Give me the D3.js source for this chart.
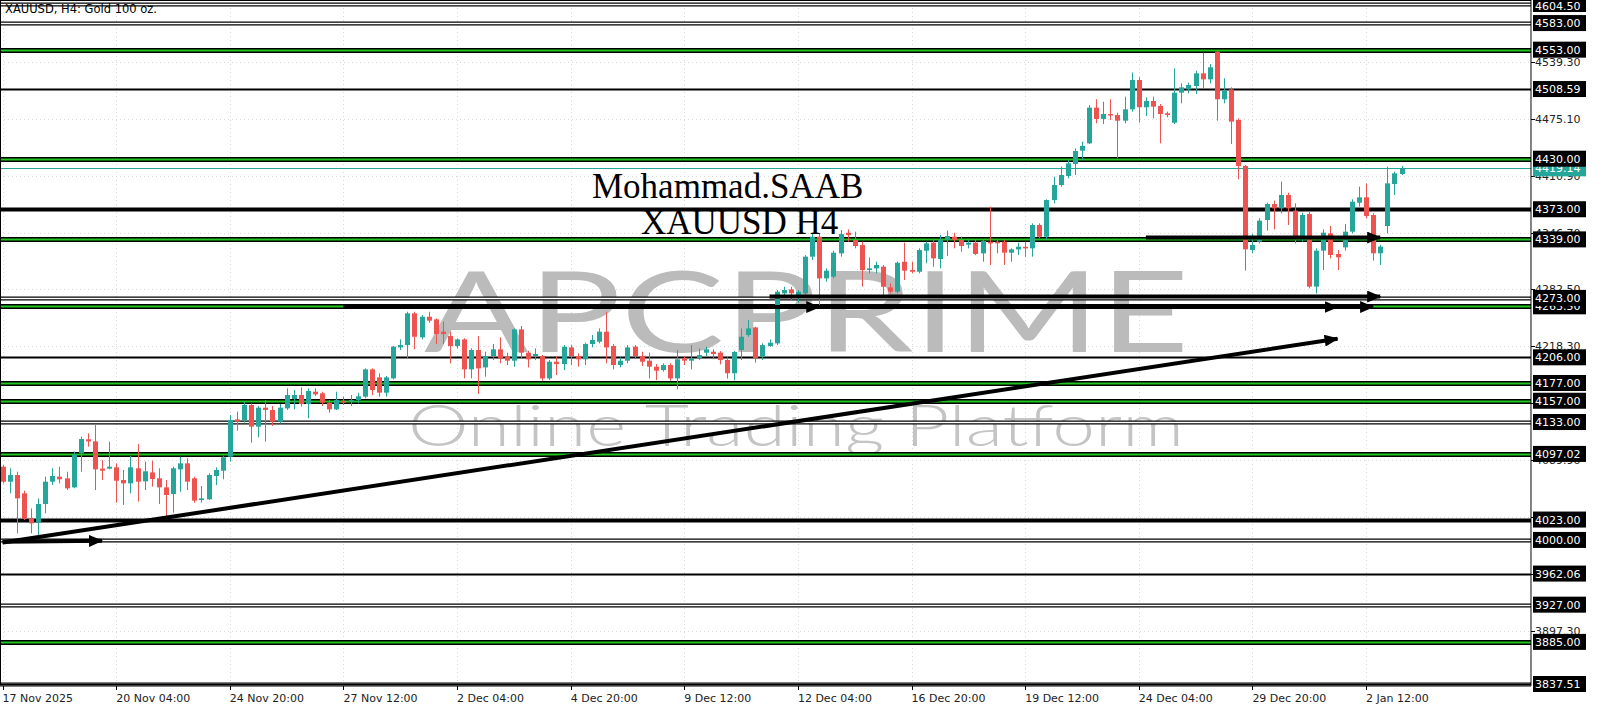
<!DOCTYPE html>
<meta charset="utf-8">
<head>
<script src="https://cdn.jsdelivr.net/npm/d3@7"></script>
</head>
<style>
  body { margin: 0; background: #fff; }
  svg { display: block; font-family: "DejaVu Sans", sans-serif; }
</style>
<body></body>
<script>
var width = 1600, height = 711;

// time axis labels, one every 16 H4 bars
var timeLabels = ["17 Nov 2025", "20 Nov 04:00", "24 Nov 20:00", "27 Nov 12:00", "2 Dec 04:00",
  "4 Dec 20:00", "9 Dec 12:00", "12 Dec 04:00", "16 Dec 20:00", "19 Dec 12:00",
  "24 Dec 04:00", "29 Dec 20:00", "2 Jan 12:00"];

var priceTicks = [4539.30, 4475.10, 4410.90, 4346.70, 4282.50, 4218.30, 4154.10,
  4089.90, 4025.70, 3961.50, 3897.30];

// horizontal support / resistance levels
var levels = [3837.51, 3885.00, 3927.00, 3962.06, 4000.00, 4023.00, 4097.02, 4133.00,
  4157.00, 4177.00, 4206.00, 4263.50, 4273.00, 4339.00, 4373.00, 4430.00, 4508.59,
  4553.00, 4583.00, 4604.50];

var lastPrice = 4419.14;

var opens = [4082.6,4065.7,4073.2,4052.6,4024.4,4019.5,4040.5,4065.7,4071.4,4069.5,
4059.3,4097.7,4113.5,4111.2,4080.4,4080.4,4081.9,4067.6,4063.8,4080.8,
4066.1,4076.2,4069.5,4059.3,4051.8,4079.6,4086.4,4069.5,4045.0,4045.8,
4072.1,4078.1,4093.9,4136.0,4135.3,4152.2,4127.8,4149.2,4146.6,4133.4,
4148.4,4159.0,4163.5,4153.3,4167.2,4165.4,4154.8,4147.3,4157.1,4155.6,
4157.8,4161.6,4192.4,4183.4,4166.1,4182.2,4217.2,4219.8,4255.6,4228.5,
4251.8,4248.8,4234.9,4230.0,4218.7,4226.2,4192.4,4214.2,4194.6,4207.4,
4215.0,4207.4,4202.2,4237.5,4211.2,4207.4,4207.4,4182.2,4201.0,4198.4,
4217.2,4207.4,4203.7,4221.0,4223.6,4234.9,4218.7,4197.3,4202.2,4218.0,
4207.4,4202.2,4195.4,4191.6,4197.3,4182.2,4204.8,4202.2,4204.8,4211.2,
4212.3,4211.2,4203.0,4188.0,4214.2,4231.1,4239.7,4206.7,4218.7,4221.7,
4278.1,4282.6,4276.2,4278.1,4319.5,4342.0,4295.0,4296.9,4323.2,4346.5,
4338.3,4332.6,4304.4,4306.3,4308.2,4284.9,4280.0,4313.8,4304.4,4302.5,
4326.2,4335.3,4316.9,4338.3,4342.0,4338.3,4333.0,4335.3,4323.2,4336.4,
4336.4,4336.4,4324.0,4327.7,4330.7,4328.9,4355.2,4342.0,4383.4,4400.3,
4410.5,4424.0,4439.1,4447.3,4487.6,4474.8,4480.4,4479.3,4472.9,4485.7,
4518.8,4488.0,4495.1,4489.5,4481.2,4470.6,4504.5,4508.2,4512.0,4526.3,
4519.5,4550.7,4497.0,4508.2,4473.7,4421.8,4327.0,4336.4,4360.9,4378.9,
4374.0,4389.1,4371.4,4340.2,4367.6,4285.7,4326.3,4345.8,4322.5,4330.0,
4347.7,4380.4,4386.4,4366.5,4323.3,4354.1,4401.5,4412.8];

var highs = [4084.5,4080.8,4077.0,4055.6,4035.6,4046.9,4071.4,4080.8,4082.6,4077.0,
4099.6,4116.5,4120.2,4129.6,4090.2,4110.8,4086.4,4078.9,4094.7,4108.2,
4088.3,4089.4,4080.8,4067.6,4082.6,4093.9,4092.0,4071.4,4060.8,4075.1,
4081.9,4095.0,4140.9,4144.7,4155.9,4154.1,4151.1,4157.8,4151.1,4153.3,
4171.0,4169.1,4172.1,4171.0,4171.0,4167.2,4157.8,4167.2,4161.6,4163.5,
4166.0,4193.5,4193.5,4187.9,4184.9,4218.7,4226.2,4257.4,4257.4,4253.7,
4257.4,4249.9,4246.2,4234.9,4227.4,4227.4,4216.1,4230.0,4212.3,4221.0,
4228.5,4211.2,4238.6,4241.3,4213.4,4216.1,4208.6,4202.9,4207.4,4219.8,
4219.8,4210.4,4222.5,4231.1,4238.6,4257.4,4221.0,4205.9,4219.8,4219.8,
4212.3,4211.2,4198.4,4199.2,4199.2,4214.2,4207.4,4219.8,4216.1,4218.0,
4215.0,4213.0,4206.0,4213.0,4238.6,4248.0,4240.5,4221.7,4226.2,4281.9,
4285.6,4285.6,4281.9,4321.3,4345.8,4345.8,4306.3,4326.2,4349.5,4350.3,
4347.7,4336.4,4318.7,4313.8,4310.1,4289.4,4313.8,4335.3,4313.8,4328.9,
4336.4,4338.3,4343.9,4348.8,4346.5,4342.0,4338.3,4338.3,4338.3,4375.9,
4338.3,4338.3,4328.9,4335.3,4336.4,4357.1,4357.1,4384.1,4409.7,4421.0,
4428.5,4441.7,4449.2,4490.6,4497.0,4494.3,4497.0,4481.9,4500.0,4527.1,
4521.8,4499.2,4500.0,4491.7,4483.1,4531.9,4515.0,4515.8,4529.3,4549.6,
4536.8,4552.6,4520.7,4510.5,4475.5,4422.9,4345.1,4362.8,4380.4,4382.7,
4404.1,4391.7,4379.7,4369.1,4370.3,4328.9,4350.3,4354.1,4327.0,4356.4,
4384.2,4398.5,4402.2,4368.4,4332.7,4421.0,4415.4,4421.8];

var lows = [4063.8,4052.6,4007.4,4022.5,4007.4,4001.8,4030.0,4061.9,4063.8,4056.3,
4058.2,4077.0,4105.2,4056.3,4067.6,4079.6,4042.0,4039.4,4052.6,4043.2,
4056.3,4060.1,4040.5,4025.5,4030.8,4054.4,4056.3,4042.0,4042.0,4045.0,
4061.9,4068.4,4088.3,4123.2,4132.3,4109.7,4115.7,4110.8,4128.5,4131.5,
4146.6,4147.3,4150.3,4137.2,4162.4,4151.1,4143.6,4146.6,4152.2,4151.1,
4154.0,4159.7,4163.4,4161.6,4161.6,4181.1,4214.2,4204.8,4215.0,4226.2,
4245.0,4221.0,4221.0,4199.2,4216.1,4182.2,4182.2,4164.6,4184.1,4202.9,
4199.2,4197.3,4195.4,4204.8,4194.6,4202.9,4179.6,4180.4,4186.0,4191.6,
4197.3,4195.4,4197.3,4217.2,4221.7,4199.2,4192.4,4194.6,4199.2,4204.8,
4196.2,4182.2,4180.4,4189.8,4179.6,4169.8,4197.3,4192.4,4202.9,4207.4,
4205.0,4198.0,4182.0,4180.0,4202.9,4229.2,4200.0,4203.0,4217.9,4219.8,
4274.3,4270.6,4267.6,4276.2,4315.7,4264.9,4291.3,4295.0,4319.5,4336.4,
4328.9,4285.6,4300.7,4300.7,4276.2,4278.1,4278.1,4293.1,4300.7,4300.7,
4312.0,4308.2,4306.3,4320.2,4328.9,4325.1,4328.9,4321.3,4313.8,4310.1,
4323.2,4310.1,4313.8,4321.3,4319.5,4319.5,4340.1,4338.3,4379.6,4398.4,
4407.9,4411.6,4428.5,4446.6,4469.9,4469.1,4473.7,4430.4,4469.9,4483.1,
4470.6,4478.2,4475.5,4447.3,4476.7,4469.1,4492.5,4503.7,4503.0,4509.4,
4515.0,4472.9,4492.5,4446.6,4406.7,4303.7,4323.3,4334.5,4348.8,4350.3,
4368.4,4355.2,4334.5,4336.4,4283.8,4278.1,4304.5,4317.6,4304.5,4326.3,
4345.8,4375.9,4362.7,4315.0,4310.1,4345.8,4389.1,4411.6];

var closes = [4065.7,4073.2,4046.9,4024.4,4018.7,4040.5,4065.7,4072.1,4068.4,4058.2,
4095.8,4113.8,4111.2,4079.6,4078.1,4082.6,4066.8,4063.8,4081.9,4065.7,
4077.4,4068.7,4059.3,4050.7,4080.8,4086.4,4065.7,4044.3,4046.9,4073.2,
4078.9,4093.2,4135.3,4133.4,4152.2,4127.8,4149.2,4146.6,4133.4,4149.2,
4163.5,4163.5,4153.3,4168.0,4164.2,4154.8,4147.3,4157.8,4154.8,4157.8,
4162.0,4192.4,4169.1,4166.1,4183.4,4218.0,4219.8,4255.6,4229.2,4251.8,
4247.3,4232.2,4232.2,4218.7,4226.2,4192.4,4214.2,4193.5,4207.4,4215.0,
4204.8,4202.2,4237.5,4211.2,4203.7,4209.7,4182.2,4201.0,4198.4,4218.0,
4207.4,4203.7,4221.0,4225.5,4234.9,4217.2,4197.3,4202.2,4217.2,4207.4,
4201.0,4195.4,4190.9,4197.3,4182.2,4203.7,4202.2,4204.8,4208.6,4215.0,
4209.7,4202.9,4188.0,4212.0,4229.2,4238.6,4204.8,4219.8,4222.5,4280.0,
4281.9,4278.1,4280.0,4319.5,4342.0,4295.0,4303.7,4324.0,4345.0,4343.9,
4331.5,4304.4,4306.3,4310.1,4285.6,4280.0,4312.7,4303.7,4302.5,4327.0,
4334.5,4317.6,4338.3,4342.8,4338.3,4331.5,4335.3,4322.5,4337.2,4334.5,
4334.5,4324.0,4327.7,4330.7,4328.9,4355.2,4342.0,4383.4,4400.3,4411.6,
4424.8,4438.7,4444.4,4487.6,4474.8,4480.4,4478.9,4472.9,4485.7,4518.8,
4488.0,4495.1,4488.7,4480.4,4479.3,4504.5,4510.5,4513.1,4526.3,4519.5,
4533.1,4497.0,4506.7,4471.8,4421.8,4327.8,4332.7,4360.1,4378.9,4374.0,
4389.1,4374.0,4340.2,4366.5,4285.7,4326.3,4346.6,4321.4,4318.8,4347.7,
4381.5,4386.4,4365.4,4323.3,4330.8,4402.2,4413.5,4419.14];

// drawn arrows: [bar, price] -> [bar, price]
var arrows = [
  {from: [0, 3997], to: [188, 4227]},
  {from: [0, 3998], to: [14, 3999]},
  {from: [161, 4341], to: [194, 4341]},
  {from: [108, 4274.5], to: [194, 4274.5]},
  {from: [48, 4262.7], to: [115, 4262.7]},
  {from: [115, 4262.7], to: [188, 4262.7]},
  {from: [150, 4262.7], to: [193, 4262.7]}
];

var levelKind = {
  "3837.51": "double", "3885": "green", "3927": "double", "3962.06": "single",
  "4000": "double", "4023": "thick", "4097.02": "green", "4133": "double",
  "4157": "green", "4177": "green", "4206": "single", "4263.5": "green",
  "4273": "double", "4339": "green", "4373": "thick", "4430": "green",
  "4508.59": "single", "4553": "green", "4583": "double", "4604.5": "double"
};

var plotRight = 1531, plotBottom = 684;
var upColor = "#26a69a", downColor = "#ef5350";

var x = d3.scaleLinear().domain([0, 192]).range([2.6, 1366]);
var y = d3.scaleLinear().domain([3837.51, 4604.5]).range([plotBottom, 4]);

var svg = d3.select("body").append("svg")
    .attr("width", width)
    .attr("height", height);

svg.append("rect").attr("width", width).attr("height", height).attr("fill", "#fff");

var defs = svg.append("defs");
defs.append("marker")
    .attr("id", "head")
    .attr("markerUnits", "userSpaceOnUse")
    .attr("markerWidth", 14).attr("markerHeight", 12)
    .attr("refX", 13).attr("refY", 6)
    .attr("orient", "auto")
  .append("path")
    .attr("d", "M0,0 L14,6 L0,12 Z")
    .attr("fill", "#000");

// grid
var grid = svg.append("g").attr("stroke", "#d9d9d9").attr("stroke-dasharray", "1,3");
grid.selectAll(".vg").data(timeLabels).enter().append("line")
    .attr("x1", function(d, i) { return Math.round(x(i * 16)) + 0.5; })
    .attr("x2", function(d, i) { return Math.round(x(i * 16)) + 0.5; })
    .attr("y1", 0).attr("y2", plotBottom);
grid.selectAll(".hg").data(priceTicks).enter().append("line")
    .attr("x1", 0).attr("x2", plotRight)
    .attr("y1", function(d) { return Math.round(y(d)) + 0.5; })
    .attr("y2", function(d) { return Math.round(y(d)) + 0.5; });

// watermark
svg.append("text")
    .attr("x", 424).attr("y", 352)
    .attr("textLength", 765).attr("lengthAdjust", "spacingAndGlyphs")
    .style("font-family", "Lato, 'Noto Sans', sans-serif")
    .style("font-size", "112px")
    .attr("fill", "#bbbbbb")
    .text("APCPRIME");
svg.append("text")
    .attr("x", 408).attr("y", 446)
    .attr("textLength", 776).attr("lengthAdjust", "spacingAndGlyphs")
    .style("font-family", "Lato, 'Noto Sans', sans-serif")
    .style("font-weight", 300)
    .style("font-size", "57px")
    .attr("fill", "#c4c4c4")
    .text("Online Trading Platform");

// levels
var lv = svg.append("g");
levels.forEach(function(p) {
  var kind = levelKind[String(p)];
  var yy = Math.round(y(p)) + 0.5;
  function ln(w, c) {
    lv.append("line").attr("x1", 0).attr("x2", plotRight)
      .attr("y1", yy).attr("y2", yy)
      .attr("stroke", c).attr("stroke-width", w);
  }
  if (kind === "double") { ln(4, "#000"); ln(1.4, "#fff"); }
  else if (kind === "green") { ln(5, "#000"); ln(2, "#22c422"); }
  else if (kind === "thick") { ln(4, "#000"); }
  else { ln(2, "#000"); }
});

// current price line
svg.append("line")
    .attr("x1", 0).attr("x2", plotRight)
    .attr("y1", Math.round(y(lastPrice)) + 0.5).attr("y2", Math.round(y(lastPrice)) + 0.5)
    .attr("stroke", upColor).attr("stroke-width", 1);

// candles
var bars = d3.range(closes.length);
var cg = svg.append("g");
cg.selectAll(".wick").data(bars).enter().append("line")
    .attr("x1", function(i) { return Math.round(x(i)) + 0.5; })
    .attr("x2", function(i) { return Math.round(x(i)) + 0.5; })
    .attr("y1", function(i) { return y(highs[i]); })
    .attr("y2", function(i) { return y(lows[i]); })
    .attr("stroke", function(i) { return closes[i] >= opens[i] ? upColor : downColor; })
    .attr("stroke-width", 1);
cg.selectAll(".body").data(bars).enter().append("rect")
    .attr("x", function(i) { return Math.round(x(i)) - 2; })
    .attr("width", 5)
    .attr("y", function(i) { return y(Math.max(opens[i], closes[i])); })
    .attr("height", function(i) { return Math.max(1.5, Math.abs(y(opens[i]) - y(closes[i]))); })
    .attr("fill", function(i) { return closes[i] >= opens[i] ? upColor : downColor; });

// arrows
svg.append("g").selectAll("line").data(arrows).enter().append("line")
    .attr("x1", function(d) { return x(d.from[0]); })
    .attr("y1", function(d) { return y(d.from[1]); })
    .attr("x2", function(d) { return x(d.to[0]); })
    .attr("y2", function(d) { return y(d.to[1]); })
    .attr("stroke", "#000").attr("stroke-width", 4)
    .attr("marker-end", "url(#head)");

// annotations
svg.append("text")
    .attr("x", 592).attr("y", 198)
    .style("font-family", "'Liberation Serif', serif")
    .style("font-size", "35px")
    .text("Mohammad.SAAB");
svg.append("text")
    .attr("x", 641).attr("y", 234)
    .style("font-family", "'Liberation Serif', serif")
    .style("font-size", "35px")
    .text("XAUUSD H4");

svg.append("text")
    .attr("x", 5).attr("y", 13)
    .style("font-size", "11.5px")
    .text("XAUUSD, H4:  Gold 100 oz.");

// frame and price axis
svg.append("rect")
    .attr("x", 0.5).attr("y", 0.5)
    .attr("width", plotRight - 0.5).attr("height", plotBottom)
    .attr("fill", "none").attr("stroke", "#000");
svg.append("line")
    .attr("x1", plotRight + 0.5).attr("x2", plotRight + 0.5)
    .attr("y1", 0).attr("y2", plotBottom + 2)
    .attr("stroke", "#888");

// tick labels that sit right under a level tag are hidden, as in the terminal
var visibleTicks = priceTicks.filter(function(t) {
  return levels.every(function(l) { return Math.abs(y(l) - y(t)) > 4; });
});

var ax = svg.append("g").style("font-size", "11px");
ax.selectAll(".pt").data(priceTicks).enter().append("line")
    .attr("x1", plotRight).attr("x2", plotRight + 4)
    .attr("y1", function(d) { return Math.round(y(d)) + 0.5; })
    .attr("y2", function(d) { return Math.round(y(d)) + 0.5; })
    .attr("stroke", "#000");
ax.selectAll(".pl").data(visibleTicks).enter().append("text")
    .attr("x", plotRight + 4).attr("y", function(d) { return y(d) + 4; })
    .attr("fill", "#222")
    .text(function(d) { return d.toFixed(2); });

// last price tag
ax.append("rect")
    .attr("x", plotRight + 2).attr("y", y(lastPrice) - 8)
    .attr("width", 53).attr("height", 16).attr("fill", upColor);
ax.append("text")
    .attr("x", plotRight + 4).attr("y", y(lastPrice) + 4)
    .attr("fill", "#fff").text(lastPrice.toFixed(2));

// level tags (the top one is clipped by the window edge)
function tagTop(d) { return Math.max(0, y(d) - 8); }
function tagH(d) { return y(d) + 8 - tagTop(d); }
var tags = ax.selectAll(".tag").data(levels).enter().append("g");
tags.append("rect")
    .attr("x", plotRight + 2).attr("y", tagTop)
    .attr("width", 53).attr("height", tagH).attr("fill", "#000");
tags.append("text")
    .attr("x", plotRight + 4).attr("y", function(d) { return Math.max(10, y(d) + 4); })
    .attr("fill", "#fff")
    .text(function(d) { return d.toFixed(2); });

// time axis
var tx = svg.append("g").style("font-size", "11px");
tx.selectAll("line").data(timeLabels).enter().append("line")
    .attr("x1", function(d, i) { return Math.round(x(i * 16)) + 0.5; })
    .attr("x2", function(d, i) { return Math.round(x(i * 16)) + 0.5; })
    .attr("y1", plotBottom + 2).attr("y2", plotBottom + 6)
    .attr("stroke", "#000");
tx.selectAll("text").data(timeLabels).enter().append("text")
    .attr("x", function(d, i) { return x(i * 16); })
    .attr("y", 702)
    .attr("fill", "#222")
    .text(function(d) { return d; });
</script>
</html>
